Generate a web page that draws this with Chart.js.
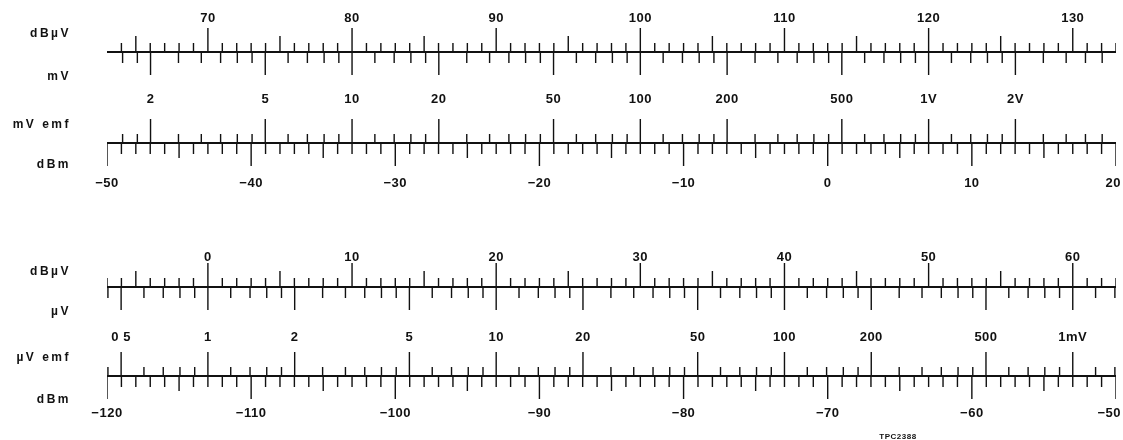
<!DOCTYPE html>
<html>
<head>
<meta charset="utf-8">
<script src="https://cdn.jsdelivr.net/npm/chart.js@4/dist/chart.umd.min.js"></script>
<style>
html,body{margin:0;padding:0;background:#fff;}
#c{display:block;}
</style>
</head>
<body>
<canvas id="c" width="1123" height="440"></canvas>
<script>
// ---------------- DATA ----------------
const topDbmRange = [-50, 20];          // dBm scale, upper nomogram
const botDbmRange = [-120, -50];        // dBm scale, lower nomogram
const topDbuvRange = [64, 133];         // 1 dB graduations of the upper dBµV scale
const botDbuvRange = [-7, 63];          // 1 dB graduations of the lower dBµV scale
const topDbuvLabels = [70, 80, 90, 100, 110, 120, 130];
const botDbuvLabels = [0, 10, 20, 30, 40, 50, 60];
const topDbmLabels = [-50, -40, -30, -20, -10, 0, 10, 20];
const botDbmLabels = [-120, -110, -100, -90, -80, -70, -60, -50];
const topMvValues = [2, 5, 10, 20, 50, 100, 200, 500, 1000, 2000];          // mV
const topMvText = ['2', '5', '10', '20', '50', '100', '200', '500', '1V', '2V'];
const botUvValues = [0.5, 1, 2, 5, 10, 20, 50, 100, 200, 500, 1000];        // µV
const botUvText = ['0 5', '1', '2', '5', '10', '20', '50', '100', '200', '500', '1mV'];
const decadeSubdivisions = [1.2, 1.4, 1.6, 1.8, 2.5, 3, 3.5, 4, 4.5, 6, 7, 8, 9];
const topMvDecades = [1, 10, 100, 1000];
const botUvDecades = [0.1, 1, 10, 100, 1000];
const emfOffsetDb = 113;                // dBµV(emf) = dBm + 113 (50 ohm)
const footnote = 'TPC2388';

// ---------------- conversions ----------------
const dbuvToDbm = v => v - emfOffsetDb;
const mvToDbm = v => 20 * Math.log10(v * 1000) - emfOffsetDb;
const uvToDbm = v => 20 * Math.log10(v) - emfOffsetDb;
const intRange = (a, b) => { const r = []; for (let i = a; i <= b; i++) r.push(i); return r; };
function logMinor(decades, conv, range, majors) {
  const out = [];
  decades.forEach(d => decadeSubdivisions.forEach(s => {
    const v = +(s * d).toPrecision(6);
    const x = conv(v);
    if (x >= range[0] - 1e-6 && x <= range[1] + 1e-6 && !majors.includes(v)) out.push(v);
  }));
  return out;
}

// ---------------- layout / style (pixel rows on the y scale) ----------------
const ROW = { t1: 52, t2: 143, b1: 287, b2: 376 };
const LBL = { tDbuv: 18, tMv: 99, tDbm: 183, bDbuv: 257, bUv: 337, bDbm: 413 };
const UP = { minor: 9, medium: 16, major: 24 };
const DOWN = { minor: 11, medium: 15, major: 23 };
const INK = '#111';
const RIGHT_LIMIT = 1121;

function ticks(values, conv, base, dir, lenOf) {
  const pts = [];
  values.forEach(v => {
    const x = conv(v);
    pts.push({ x, y: base }, { x, y: base + dir * lenOf(v) }, { x, y: null });
  });
  return pts;
}
const dbLen = L => v => (v % 10 === 0 ? L.major : (Math.abs(v % 5) === 0 ? L.medium : L.minor));
const logLen = (L, majors) => v => (majors.includes(v) ? L.major : L.minor);

function tickSet(id, axis, data, width) {
  return { label: id, xAxisID: axis, yAxisID: 'y', data, borderColor: INK, borderWidth: width || 1.4,
           pointRadius: 0, spanGaps: false, tension: 0, fill: false };
}
function baseLine(id, axis, range, y) {
  return tickSet(id, axis, [{ x: range[0], y }, { x: range[1], y }], 2);
}

const topMvAll = topMvValues.concat(logMinor(topMvDecades, mvToDbm, topDbmRange, topMvValues));
const botUvAll = botUvValues.concat(logMinor(botUvDecades, uvToDbm, botDbmRange, botUvValues));

const datasets = [
  // upper nomogram, row 1: dBµV (up) / mV (down)
  baseLine('top-row1', 'xT', topDbmRange, ROW.t1),
  tickSet('dBµV top', 'xT', ticks(intRange(topDbuvRange[0], topDbuvRange[1]), dbuvToDbm, ROW.t1, -1, dbLen(UP))),
  tickSet('mV', 'xT', ticks(topMvAll, mvToDbm, ROW.t1, 1, logLen(DOWN, topMvValues))),
  // upper nomogram, row 2: mV emf (up) / dBm (down)
  baseLine('top-row2', 'xT', topDbmRange, ROW.t2),
  tickSet('mV emf', 'xT', ticks(topMvAll, mvToDbm, ROW.t2, -1, logLen(UP, topMvValues))),
  tickSet('dBm top', 'xT', ticks(intRange(topDbmRange[0], topDbmRange[1]), v => v, ROW.t2, 1, dbLen(DOWN))),
  // lower nomogram, row 1: dBµV (up) / µV (down)
  baseLine('bot-row1', 'xB', botDbmRange, ROW.b1),
  tickSet('dBµV bottom', 'xB', ticks(intRange(botDbuvRange[0], botDbuvRange[1]), dbuvToDbm, ROW.b1, -1, dbLen(UP))),
  tickSet('µV', 'xB', ticks(botUvAll, uvToDbm, ROW.b1, 1, logLen(DOWN, botUvValues))),
  // lower nomogram, row 2: µV emf (up) / dBm (down)
  baseLine('bot-row2', 'xB', botDbmRange, ROW.b2),
  tickSet('µV emf', 'xB', ticks(botUvAll, uvToDbm, ROW.b2, -1, logLen(UP, botUvValues))),
  tickSet('dBm bottom', 'xB', ticks(intRange(botDbmRange[0], botDbmRange[1]), v => v, ROW.b2, 1, dbLen(DOWN)))
];

const fmtDbm = v => (v < 0 ? '\u2212' + Math.abs(v) : String(v));

const textPlugin = {
  id: 'nomoText',
  afterDatasetsDraw(chart) {
    const ctx = chart.ctx, xT = chart.scales.xT, xB = chart.scales.xB, y = chart.scales.y;
    ctx.save();
    ctx.fillStyle = INK;
    ctx.textBaseline = 'middle';
    ctx.textAlign = 'center';
    ctx.font = 'bold 13px "Liberation Sans", Arial, sans-serif';
    ctx.letterSpacing = '0.5px';
    const put = (txt, sx, val, ly) => {
      let px = sx.getPixelForValue(val);
      const w = ctx.measureText(txt).width;
      if (px + w / 2 > RIGHT_LIMIT) px = RIGHT_LIMIT - w / 2;
      ctx.fillText(txt, px, y.getPixelForValue(ly));
    };
    topDbuvLabels.forEach(v => put(String(v), xT, dbuvToDbm(v), LBL.tDbuv));
    topMvValues.forEach((v, i) => put(topMvText[i], xT, mvToDbm(v), LBL.tMv));
    topDbmLabels.forEach(v => put(fmtDbm(v), xT, v, LBL.tDbm));
    botDbuvLabels.forEach(v => put(String(v), xB, dbuvToDbm(v), LBL.bDbuv));
    botUvValues.forEach((v, i) => put(botUvText[i], xB, uvToDbm(v), LBL.bUv));
    botDbmLabels.forEach(v => put(fmtDbm(v), xB, v, LBL.bDbm));

    // scale names on the left
    ctx.textAlign = 'right';
    ctx.font = 'bold 12px "Liberation Sans", Arial, sans-serif';
    ctx.letterSpacing = '2.5px';
    const names = [['dB\u00b5V', 34], ['mV', 77], ['mV emf', 125], ['dBm', 165],
                   ['dB\u00b5V', 272], ['\u00b5V', 312], ['\u00b5V emf', 358], ['dBm', 400]];
    names.forEach(([t, ly]) => ctx.fillText(t, 71, y.getPixelForValue(ly)));

    ctx.textAlign = 'center';
    ctx.font = 'bold 8px "Liberation Sans", Arial, sans-serif';
    ctx.letterSpacing = '0.5px';
    ctx.fillText(footnote, 898, y.getPixelForValue(437));
    ctx.restore();
  }
};

new Chart(document.getElementById('c'), {
  type: 'line',
  data: { datasets },
  options: {
    responsive: false,
    animation: false,
    devicePixelRatio: 1,
    layout: { padding: { left: 107, right: 7, top: 0, bottom: 0 } },
    plugins: { legend: { display: false }, tooltip: { enabled: false } },
    events: [],
    scales: {
      xT: { type: 'linear', position: 'bottom', min: topDbmRange[0], max: topDbmRange[1], display: false },
      xB: { type: 'linear', position: 'bottom', min: botDbmRange[0], max: botDbmRange[1], display: false },
      y: { type: 'linear', min: 0, max: 440, reverse: true, display: false }
    }
  },
  plugins: [textPlugin]
});
</script>
</body>
</html>
